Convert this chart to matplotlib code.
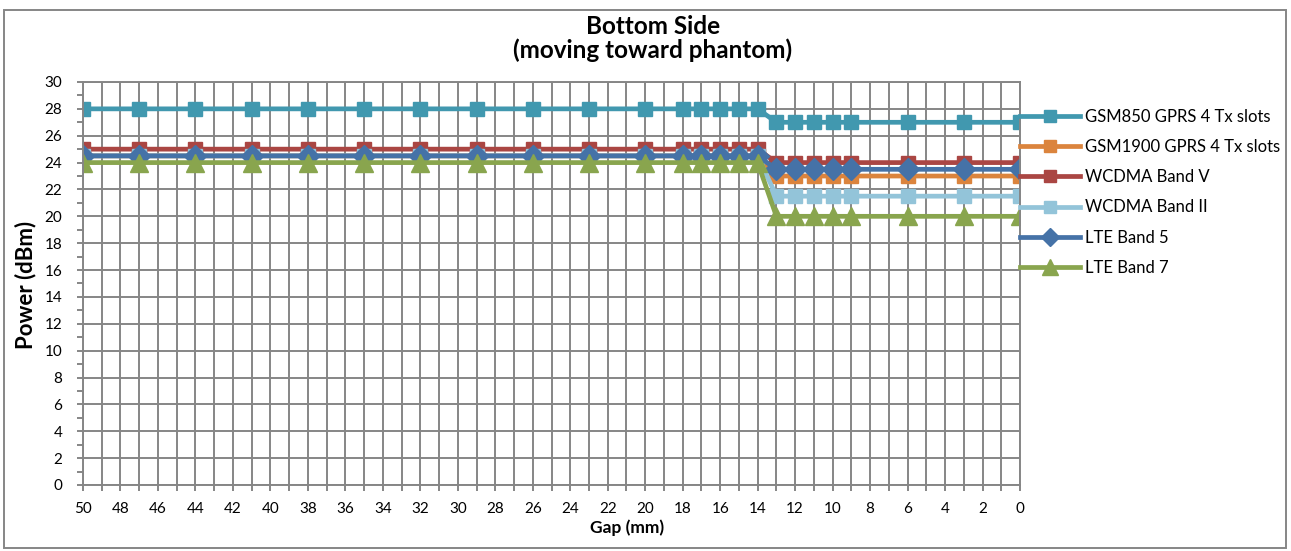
import numpy as np
import matplotlib.pyplot as plt
from matplotlib.ticker import MultipleLocator
from matplotlib.patches import Rectangle

plt.rcParams['font.family'] = ['Lato', 'DejaVu Sans']

# gap positions (mm)
gap = [50, 47, 44, 41, 38, 35, 32, 29, 26, 23, 20, 18, 17, 16, 15, 14,
       13, 12, 11, 10, 9, 6, 3, 0]

# power per band (dBm): 16 points at far gaps, 8 at near gaps
gsm850 = [28] * 16 + [27] * 8
gsm1900 = [24.5] * 16 + [23] * 8
wcdma5 = [25] * 16 + [24] * 8
wcdma2 = [24.5] * 16 + [21.5] * 8
lte5 = [24.5] * 16 + [23.5] * 8
lte7 = [24] * 16 + [20] * 8

names = ['GSM850 GPRS 4 Tx slots', 'GSM1900 GPRS 4 Tx slots', 'WCDMA Band V',
         'WCDMA Band II', 'LTE Band 5', 'LTE Band 7']
series = [gsm850, gsm1900, wcdma5, wcdma2, lte5, lte7]
colors = ['#4198AF', '#DB843D', '#AA4643', '#93C4D9', '#4572A7', '#89A54E']
markers = ['s', 's', 's', 's', 'D', '^']
msizes = [10.5, 10.5, 10.5, 10.5, 11, 13.5]

fig = plt.figure(figsize=(12.91, 5.51), dpi=100)
ax = fig.add_axes([0.0643, 0.1198, 0.7258, 0.7314])

for vals, name, c, m, ms in zip(series, names, colors, markers, msizes):
    ax.plot(gap, vals, color=c, lw=3.4, marker=m, ms=ms, label=name)

ax.set_xlim(50, 0)
ax.set_ylim(0, 30)
ax.xaxis.set_major_locator(MultipleLocator(2))
ax.xaxis.set_minor_locator(MultipleLocator(1))
ax.yaxis.set_major_locator(MultipleLocator(2))
ax.yaxis.set_minor_locator(MultipleLocator(1))
ax.grid(which='major', color='#868686', lw=1.4)
ax.grid(which='minor', axis='x', color='#868686', lw=1.4)
ax.set_axisbelow(True)
for s in ax.spines.values():
    s.set_color('#868686')
    s.set_linewidth(1.4)
ax.tick_params(which='both', colors='#868686', labelcolor='black', labelsize=11,
               direction='out', length=4, width=1.4)
ax.tick_params(axis='x', pad=8)
ax.tick_params(axis='y', pad=11)

fig.text(653 / 1291, 1 - 26 / 551, 'Bottom Side', ha='center', va='center',
         fontsize=17.5, fontweight='bold')
fig.text(653 / 1291, 1 - 50 / 551, '(moving toward phantom)', ha='center', va='center',
         fontsize=17.5, fontweight='bold')
fig.text(26 / 1291, 1 - 285 / 551, 'Power (dBm)', rotation=90, ha='center', va='center',
         fontsize=16, fontweight='bold')
fig.text(627 / 1291, 1 - 528 / 551, 'Gap (mm)', ha='center', va='center',
         fontsize=12.5, fontweight='bold')

fig.legend(loc='upper left', bbox_to_anchor=(1020 / 1291, 1 - 109 / 551), frameon=False,
           fontsize=12, handlelength=3.6, labelspacing=0.85, handletextpad=0.3,
           borderpad=0, borderaxespad=0, markerscale=0.85)

fig.patches.append(Rectangle((4 / 1291, 3 / 551), 1282 / 1291, 538 / 551,
                             transform=fig.transFigure, fill=False,
                             edgecolor='#868686', lw=1.4))

fig.savefig('out.png', dpi=100)
